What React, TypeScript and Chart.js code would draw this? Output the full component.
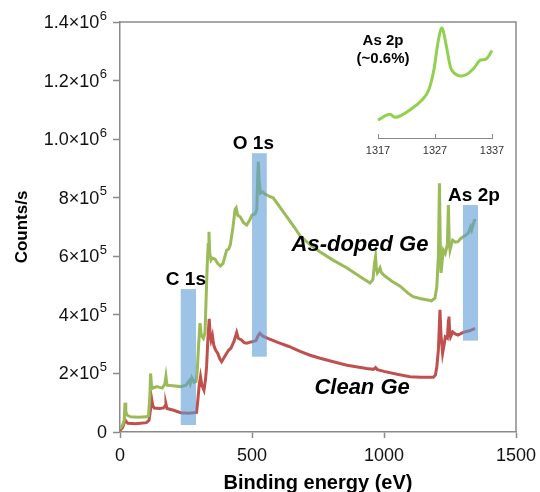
import React, { useEffect, useRef } from "react";
import { Chart, registerables } from "chart.js";

Chart.register(...registerables);

// ---- Data ----
const energyAsDoped = [
  0, 10, 16, 19, 22, 26, 40, 70, 100, 108, 113, 116, 119, 125, 140, 160, 170, 174, 178, 200,
  230, 250, 262, 266, 272, 280, 288, 292, 298, 303, 308, 316, 322, 326, 330, 334, 337, 340, 345, 350,
  360, 370, 380, 390, 404, 412, 418, 428, 436, 440, 446, 455, 468, 480, 492, 500, 512, 518, 522, 524,
  527, 532, 540, 550, 565, 581, 620, 660, 682, 720, 758, 807, 860, 910, 947, 958, 964, 968, 971, 975,
  980, 985, 990, 1000, 1030, 1061, 1090, 1110, 1140, 1170, 1180, 1193, 1200, 1206, 1210, 1213, 1216, 1220, 1225, 1232,
  1240, 1244, 1247, 1250, 1255, 1260, 1270, 1280, 1290, 1300, 1310, 1320, 1328, 1332, 1338, 1345,
];
const countsAsDoped = [
  10000, 25000, 40000, 100000, 70000, 58000, 52000, 50000, 52000, 55000, 120000, 200000, 160000, 150000, 155000, 150000, 165000, 190000, 160000, 158000,
  155000, 160000, 175000, 165000, 185000, 170000, 172000, 200000, 300000, 372000, 330000, 320000, 340000, 450000, 560000, 640000, 684000, 610000, 587000, 594000,
  590000, 575000, 567000, 575000, 621000, 625000, 640000, 700000, 760000, 765000, 740000, 735000, 715000, 707000, 725000, 741000, 745000, 760000, 880000, 923000,
  860000, 816000, 820000, 812000, 805000, 799000, 750000, 700000, 670000, 640000, 615000, 587000, 560000, 530000, 509000, 520000, 575000, 598000, 560000, 543000,
  550000, 560000, 545000, 535000, 515000, 498000, 475000, 462000, 455000, 450000, 448000, 457000, 496000, 600000, 849000, 650000, 543000, 580000, 621000, 610000,
  640000, 775000, 650000, 621000, 640000, 655000, 648000, 650000, 660000, 667000, 672000, 680000, 700000, 690000, 710000, 727000,
];

const energyClean = [
  0, 10, 19, 24, 30, 60, 100, 110, 116, 120, 124, 130, 150, 165, 171, 174, 178, 200, 230, 260,
  290, 295, 300, 305, 310, 318, 324, 328, 333, 338, 341, 345, 350, 355, 362, 370, 378, 385, 395, 404,
  412, 420, 432, 442, 448, 460, 470, 480, 490, 500, 515, 524, 530, 540, 560, 600, 640, 682, 720, 758,
  808, 860, 934, 960, 968, 975, 1000, 1050, 1098, 1140, 1187, 1195, 1200, 1206, 1212, 1216, 1222, 1228, 1232, 1240,
  1244, 1246, 1249, 1252, 1260, 1270, 1280, 1300, 1320, 1330, 1345,
];
const countsClean = [
  5000, 15000, 41000, 35000, 30000, 28000, 32000, 40000, 80000, 112000, 90000, 82000, 80000, 82000, 90000, 96000, 80000, 75000, 66000, 64000,
  67000, 110000, 160000, 189000, 160000, 143000, 180000, 223000, 320000, 386000, 340000, 314000, 330000, 297000, 280000, 269000, 250000, 240000, 255000, 269000,
  280000, 286000, 310000, 340000, 320000, 314000, 305000, 303000, 306000, 308000, 312000, 330000, 337000, 328000, 320000, 305000, 292000, 275000, 262000, 252000,
  240000, 228000, 217000, 214000, 220000, 213000, 207000, 197000, 189000, 187000, 187000, 195000, 223000, 280000, 417000, 330000, 269000, 300000, 325000, 320000,
  380000, 394000, 340000, 325000, 342000, 335000, 331000, 340000, 345000, 348000, 354000,
];

// Inset: As 2p detail (arbitrary intensity units)
const insetEnergy = [
  1317, 1319.1, 1320, 1323, 1324.7, 1325.9, 1326.8, 1327.6, 1328.2, 1328.9, 1329.7, 1330.9, 1331.5, 1332.6, 1333.8, 1335, 1335.9, 1337,
];
const insetIntensity = [
  18, 23.7, 20.7, 29.7, 38, 48, 68, 98, 110, 94.7, 71.3, 63, 62, 63.7, 69.7, 78, 78.7, 87.3,
];
const insetTicks = [1317, 1327, 1337];

// Axis ticks
const xTickValues = [0, 500, 1000, 1500];
const yTickValues = [0, 200000, 400000, 600000, 800000, 1000000, 1200000, 1400000];
const yTickBase = ["0", "2×10", "4×10", "6×10", "8×10", "1.0×10", "1.2×10", "1.4×10"];
const yTickExp = ["", "5", "5", "5", "5", "6", "6", "6"];

// Highlighted core-level regions
const regionNames = ["C 1s", "O 1s", "As 2p"];
const regionStart = [230, 500, 1299];
const regionEnd = [288, 556, 1356];
const regionLow = [24000, 257000, 312000];
const regionHigh = [488000, 952000, 775000];

const seriesNames = ["As-doped Ge", "Clean Ge"];

const FONT = '"Liberation Sans", Arial, Helvetica, sans-serif';
const AXIS_GREY = "#8a8a8a";

const annotationPlugin = {
  id: "xpsAnnotations",
  afterDatasetsDraw(chart: any, _args: any, opts: any) {
    const { ctx, scales, chartArea } = chart;
    const x = scales.x;
    const y = scales.y;
    ctx.save();
    // frame (top + right)
    ctx.strokeStyle = AXIS_GREY;
    ctx.lineWidth = 1.5;
    ctx.beginPath();
    ctx.moveTo(chartArea.left, chartArea.top);
    ctx.lineTo(chartArea.right, chartArea.top);
    ctx.lineTo(chartArea.right, chartArea.bottom);
    ctx.stroke();

    // translucent region boxes
    ctx.fillStyle = "rgba(91,155,213,0.6)";
    regionNames.forEach((_n, i) => {
      const x0 = x.getPixelForValue(regionStart[i]);
      const x1 = x.getPixelForValue(regionEnd[i]);
      const y0 = y.getPixelForValue(regionLow[i]);
      const y1 = y.getPixelForValue(regionHigh[i]);
      ctx.fillRect(x0, y1, x1 - x0, y0 - y1);
    });

    // region labels
    ctx.fillStyle = "#000";
    ctx.font = `bold 19px ${FONT}`;
    ctx.textAlign = "center";
    ctx.textBaseline = "middle";
    regionNames.forEach((n, i) => {
      const cx = (x.getPixelForValue(regionStart[i]) + x.getPixelForValue(regionEnd[i])) / 2 + opts.labelShift[i];
      const top = y.getPixelForValue(regionHigh[i]);
      ctx.fillText(n, cx, top - 9);
    });

    // series labels
    ctx.font = `italic bold 22px ${FONT}`;
    seriesNames.forEach((n, i) => {
      const p = opts.seriesLabelAt[i];
      ctx.fillText(n, x.getPixelForValue(p[0]), y.getPixelForValue(p[1]));
    });

    // inset label
    ctx.font = `bold 15px ${FONT}`;
    ctx.fillText("As 2p", 383, 41);
    ctx.fillText("(~0.6%)", 383, 59);

    // y tick labels with superscript exponents
    const right = chartArea.left - 13;
    ctx.fillStyle = "#111";
    ctx.textBaseline = "middle";
    ctx.textAlign = "right";
    yTickValues.forEach((v, i) => {
      const py = y.getPixelForValue(v);
      let rx = right;
      if (yTickExp[i]) {
        ctx.font = `13px ${FONT}`;
        ctx.fillText(yTickExp[i], rx, py - 6);
        rx -= ctx.measureText(yTickExp[i]).width + 0.5;
      }
      ctx.font = `18px ${FONT}`;
      ctx.fillText(yTickBase[i], rx, py + 1);
    });
    ctx.restore();
  },
};

// upward tick marks on the inset axis
const insetTickPlugin = {
  id: "insetTicks",
  afterDraw(chart: any) {
    const { ctx, scales, chartArea } = chart;
    const x = scales.x;
    ctx.save();
    ctx.strokeStyle = AXIS_GREY;
    ctx.lineWidth = 1;
    ctx.beginPath();
    insetTicks.forEach((t) => {
      const px = Math.round(x.getPixelForValue(t)) + 0.5;
      ctx.moveTo(px, chartArea.bottom);
      ctx.lineTo(px, chartArea.bottom - 4);
    });
    ctx.stroke();
    ctx.restore();
  },
};

export default function App() {
  const mainRef = useRef<HTMLCanvasElement | null>(null);
  const insetRef = useRef<HTMLCanvasElement | null>(null);

  useEffect(() => {
    if (!mainRef.current || !insetRef.current) return;

    const main = new Chart(mainRef.current, {
      type: "line",
      data: {
        datasets: [
          {
            label: seriesNames[0],
            data: energyAsDoped.map((e, i) => ({ x: e, y: countsAsDoped[i] })),
            borderColor: "#9BBB59",
            borderWidth: 3,
            pointRadius: 0,
            tension: 0,
          },
          {
            label: seriesNames[1],
            data: energyClean.map((e, i) => ({ x: e, y: countsClean[i] })),
            borderColor: "#C0504D",
            borderWidth: 3,
            pointRadius: 0,
            tension: 0,
          },
        ],
      },
      options: {
        animation: false,
        responsive: false,
        events: [],
        layout: { padding: { top: 22, right: 24, left: 0, bottom: 0 } },
        plugins: {
          legend: { display: false },
          tooltip: { enabled: false },
          xpsAnnotations: {
            labelShift: [-2.5, -6, 3.5],
            seriesLabelAt: [
              [909, 638000],
              [917, 150000],
            ],
          },
        } as any,
        scales: {
          x: {
            type: "linear",
            min: 0,
            max: 1500,
            afterBuildTicks: (s: any) => {
              s.ticks = xTickValues.map((v) => ({ value: v }));
            },
            afterFit: (s: any) => {
              s.height = 60;
              s.paddingLeft = 0;
              s.paddingRight = 0;
            },
            grid: { drawOnChartArea: false, drawTicks: true, tickLength: 6, tickColor: AXIS_GREY, tickWidth: 1.5 },
            border: { color: AXIS_GREY, width: 1.5 },
            ticks: {
              color: "#111",
              font: { family: FONT, size: 18 },
              padding: 7,
              maxRotation: 0,
              callback: (v: any) => String(v),
            },
            title: {
              display: true,
              text: "Binding energy (eV)",
              color: "#000",
              font: { family: FONT, size: 20, weight: "bold", lineHeight: 0.9 },
              padding: { top: 0, bottom: 0 },
            },
          },
          y: {
            type: "linear",
            min: 0,
            max: 1400000,
            afterBuildTicks: (s: any) => {
              s.ticks = yTickValues.map((v) => ({ value: v }));
            },
            afterFit: (s: any) => {
              s.width = 120;
              s.paddingTop = 0;
              s.paddingBottom = 0;
            },
            grid: { drawOnChartArea: false, drawTicks: true, tickLength: 7, tickColor: AXIS_GREY, tickWidth: 1.5 },
            border: { color: AXIS_GREY, width: 1.5 },
            ticks: { display: false },
            title: {
              display: true,
              text: "Counts/s",
              color: "#000",
              font: { family: FONT, size: 17, weight: "bold", lineHeight: 1.2 },
              padding: { top: 12, bottom: 0 },
            },
          },
        },
      },
      plugins: [annotationPlugin],
    });

    const inset = new Chart(insetRef.current, {
      type: "line",
      data: {
        datasets: [
          {
            data: insetEnergy.map((e, i) => ({ x: e, y: insetIntensity[i] })),
            borderColor: "#92D050",
            borderWidth: 3,
            pointRadius: 0,
            cubicInterpolationMode: "monotone",
            clip: false,
          },
        ],
      },
      options: {
        animation: false,
        responsive: false,
        events: [],
        layout: { padding: { top: 1, right: 18, left: 18, bottom: 0 } },
        plugins: { legend: { display: false }, tooltip: { enabled: false } },
        scales: {
          x: {
            type: "linear",
            min: 1317,
            max: 1337,
            afterBuildTicks: (s: any) => {
              s.ticks = insetTicks.map((v) => ({ value: v }));
            },
            afterFit: (s: any) => {
              s.height = 29;
              s.paddingLeft = 0;
              s.paddingRight = 0;
            },
            grid: { drawOnChartArea: false, drawTicks: false },
            border: { color: AXIS_GREY, width: 1 },
            ticks: {
              color: "#333",
              font: { family: FONT, size: 11 },
              padding: 6,
              maxRotation: 0,
              callback: (v: any) => String(v),
            },
          },
          y: { display: false, min: 0, max: 115 },
        },
      },
      plugins: [insetTickPlugin],
    });

    return () => {
      main.destroy();
      inset.destroy();
    };
  }, []);

  return (
    <div style={{ position: "absolute", left: 0, top: 0, width: 540, height: 492, background: "#fff" }}>
      <canvas ref={mainRef} width={540} height={492} style={{ position: "absolute", left: 0, top: 0 }} />
      <canvas ref={insetRef} width={150} height={145} style={{ position: "absolute", left: 360, top: 22 }} />
    </div>
  );
}
